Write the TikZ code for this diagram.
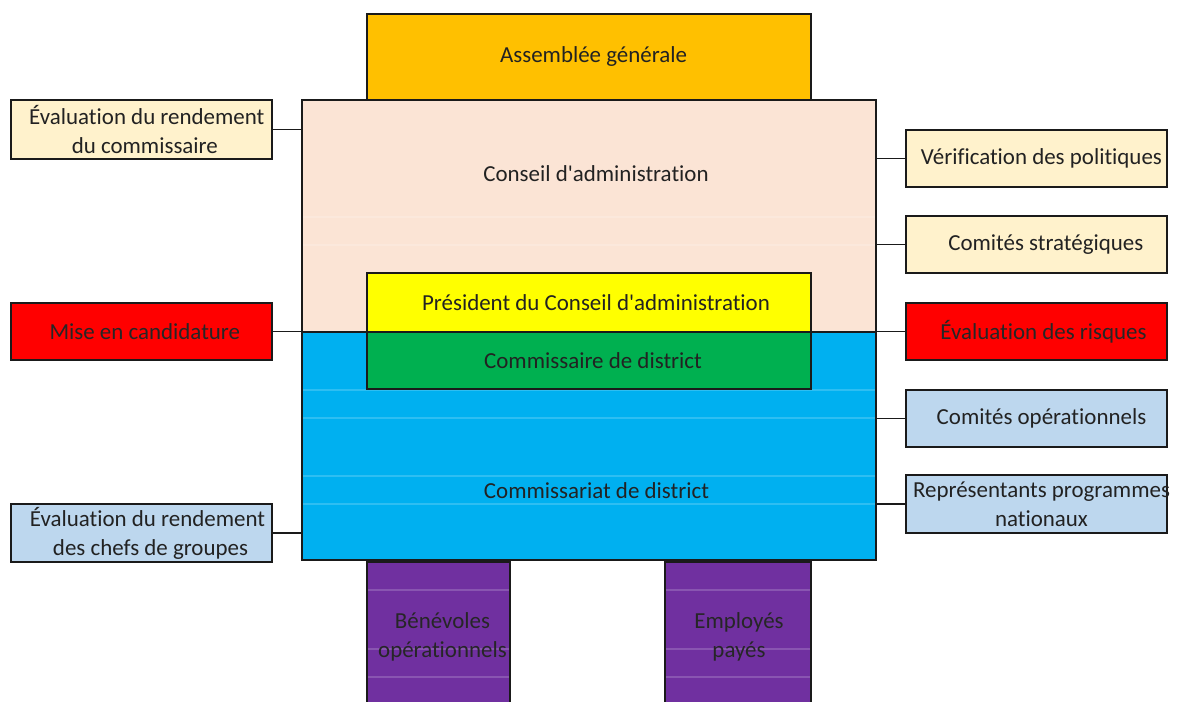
\documentclass[tikz,border=0pt]{standalone}
\usepackage{fontspec}
\setmainfont{Carlito}[Ligatures={TeXOff,NoCommon}]
\definecolor{bordc}{HTML}{1A1A1A}
\definecolor{txtc}{HTML}{222222}
\definecolor{orangeC}{HTML}{FFC000}
\definecolor{peachC}{HTML}{FBE4D5}
\definecolor{cyanC}{HTML}{00B0F0}
\definecolor{yellowC}{HTML}{FFFF00}
\definecolor{greenC}{HTML}{00B050}
\definecolor{purpleC}{HTML}{7030A0}
\definecolor{creamC}{HTML}{FFF2CC}
\definecolor{lblueC}{HTML}{BDD7EE}
\definecolor{redC}{HTML}{FF0000}
\newcommand{\sh}[1]{\hspace*{#1pt}}
\begin{document}
\begin{tikzpicture}[x=0.75pt,y=-0.75pt,
  box/.style={draw=bordc, line width=1.5pt, inner sep=0pt, align=center,
    font=\fontsize{17.2}{21.6}\selectfont, text=txtc},
  sz/.style 2 args={minimum width=#1*0.75pt, minimum height=#2*0.75pt},
  lbl/.style={inner sep=0pt, align=center, font=\fontsize{17.2}{21.6}\selectfont, text=txtc},
  conn/.style={draw=bordc, line width=1.1pt},
  faint/.style={draw=white, opacity=0.18, line width=0.8pt}]
\useasboundingbox (0,0) rectangle (1178,702);
% main blocks
\node[box, sz={574}{232}, fill=peachC] (conseil) at (589,216) {};
\node[box, sz={574}{228}, fill=cyanC] (commiss) at (589,446) {};
\foreach \yy in {217,245} \draw[faint] (303,\yy) -- (875,\yy);
\foreach \yy in {390,418,476,504} \draw[faint] (303,\yy) -- (875,\yy);
\node[lbl] (conseilT) at (596,174) {Conseil d'administration};
\node[lbl] (commissT) at (596.5,491) {Commissariat de district};
\node[box, sz={444}{86}, fill=orangeC] (ag) at (589,57) {\sh{6.75}Assemblée générale};
\node[box, sz={444}{59}, fill=yellowC] (pres) at (589,302.5) {\sh{10.5}Président du Conseil d'administration};
\node[box, sz={444}{57}, fill=greenC] (commr) at (589,360.5) {\sh{6}Commissaire de district};
% purple
\node[box, sz={143}{150}, fill=purpleC] (benev) at (438.5,637) {};
\node[box, sz={146}{150}, fill=purpleC] (employ) at (738,637) {};
\foreach \yy in {590,649,677} {
  \draw[faint] (368,\yy) -- (509,\yy);
  \draw[faint] (666,\yy) -- (810,\yy);
}
\node[lbl, text=black!85] (benevT) at (442.5,637) {Bénévoles\\opérationnels};
\node[lbl, text=black!85] (employT) at (739,637) {Employés\\payés};
% left boxes
\node[box, sz={261}{59}, fill=creamC] (evalc) at (141.5,129.5) {\sh{8}Évaluation du rendement\\\sh{5}du commissaire};
\node[box, sz={261}{57}, fill=redC, text=black!85] (mise) at (141.5,331.5) {\sh{5}Mise en candidature};
\node[box, sz={261}{58}, fill=lblueC] (evalg) at (141.5,533) {\sh{9}Évaluation du rendement\\\sh{13.5}des chefs de groupes};
% right boxes
\node[box, sz={261}{57}, fill=creamC] (verif) at (1036.5,158.5) {\sh{7.5}Vérification des politiques};
\node[box, sz={261}{57}, fill=creamC] (strat) at (1036.5,244.5) {\sh{14}Comités stratégiques};
\node[box, sz={261}{57}, fill=redC, text=black!85] (risq) at (1036.5,331.5) {\sh{10.5}Évaluation des risques};
\node[box, sz={261}{57}, fill=lblueC] (opera) at (1036.5,418.5) {\sh{7.5}Comités opérationnels};
\node[box, sz={261}{58}, fill=lblueC] (repr) at (1036.5,504) {};
\node[lbl] (reprT) at (1041.5,504) {Représentants programmes\\nationaux};
% connectors
\draw[conn] (evalc.east) -- (evalc.east -| conseil.west);
\draw[conn] (mise.east) -- (mise.east -| conseil.west);
\draw[conn] (evalg.east) -- (evalg.east -| commiss.west);
\draw[conn] (verif.west) -- (verif.west -| conseil.east);
\draw[conn] (strat.west) -- (strat.west -| conseil.east);
\draw[conn] (risq.west) -- (risq.west -| conseil.east);
\draw[conn] (opera.west) -- (opera.west -| commiss.east);
\draw[conn] (repr.west) -- (repr.west -| commiss.east);
\end{tikzpicture}
\end{document}
